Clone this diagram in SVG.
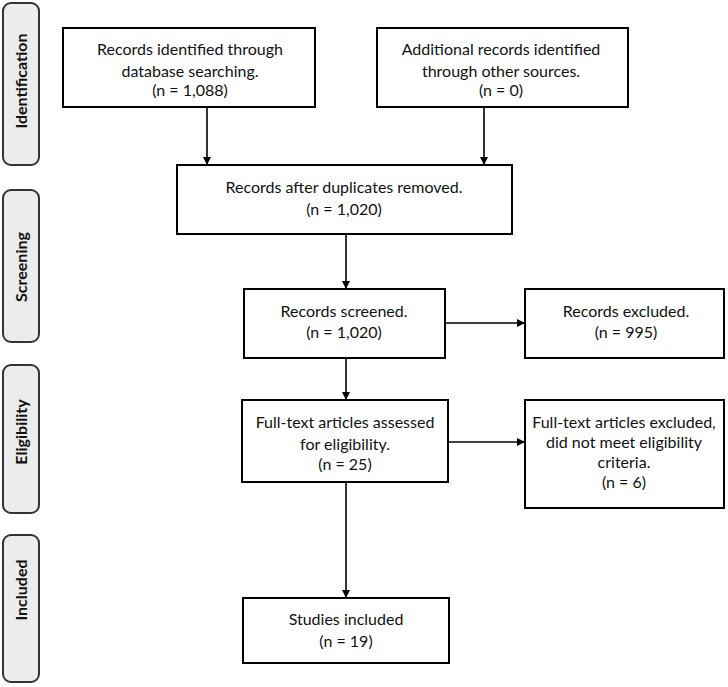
<svg xmlns="http://www.w3.org/2000/svg" width="728" height="687" viewBox="0 0 728 687">
<defs>
<marker id="ah" viewBox="0 0 10 10" refX="10" refY="5" markerWidth="8" markerHeight="8" markerUnits="userSpaceOnUse" orient="auto">
<path d="M0,0 L10,5 L0,10 z" fill="#000"/>
</marker>
</defs>
<style>
.box{fill:#fff;stroke:#000;stroke-width:2}
.side{fill:#ececec;stroke:#333;stroke-width:2}
.t{font-family:Lato,"Open Sans","Liberation Sans",sans-serif;font-size:16px;fill:#111;text-anchor:middle}
.s{font-family:Lato,"Open Sans","Liberation Sans",sans-serif;font-size:16px;font-weight:bold;fill:#111;text-anchor:middle}
.c{stroke:#000;stroke-width:1.6;fill:none;marker-end:url(#ah)}
</style>
<rect width="728" height="687" fill="#fff"/>
<g id="phase-identification"><rect class="side" x="3" y="3" width="36" height="162" rx="8"/><text class="s" transform="translate(27,81) rotate(-90)">Identification</text></g>
<g id="phase-screening"><rect class="side" x="3" y="190" width="36" height="152" rx="8"/><text class="s" transform="translate(27,267) rotate(-90)">Screening</text></g>
<g id="phase-eligibility"><rect class="side" x="3" y="365" width="36" height="148" rx="8"/><text class="s" transform="translate(27,432) rotate(-90)">Eligibility</text></g>
<g id="phase-included"><rect class="side" x="3" y="535" width="36" height="147" rx="8"/><text class="s" transform="translate(27,590) rotate(-90)">Included</text></g>
<g id="n1"><rect class="box" x="63" y="28" width="252" height="79"/><text class="t" x="190" y="55">Records identified through</text><text class="t" x="190" y="77">database searching.</text><text class="t" x="190" y="96">(n = 1,088)</text></g>
<g id="n2"><rect class="box" x="377" y="28" width="251" height="79"/><text class="t" x="501" y="55">Additional records identified</text><text class="t" x="501" y="77">through other sources.</text><text class="t" x="501" y="96">(n = 0)</text></g>
<g id="n3"><rect class="box" x="177" y="165" width="335" height="69"/><text class="t" x="344" y="193">Records after duplicates removed.</text><text class="t" x="344" y="215">(n = 1,020)</text></g>
<g id="n4"><rect class="box" x="244" y="289" width="201" height="69"/><text class="t" x="344" y="317">Records screened.</text><text class="t" x="344" y="338">(n = 1,020)</text></g>
<g id="n5"><rect class="box" x="525" y="289" width="199" height="69"/><text class="t" x="626" y="317">Records excluded.</text><text class="t" x="626" y="338">(n = 995)</text></g>
<g id="n6"><rect class="box" x="242" y="400" width="206" height="82"/><text class="t" x="345" y="428">Full-text articles assessed</text><text class="t" x="345" y="450">for eligibility.</text><text class="t" x="345" y="470">(n = 25)</text></g>
<g id="n7"><rect class="box" x="525" y="400" width="199" height="108"/><text class="t" x="624" y="428">Full-text articles excluded,</text><text class="t" x="624" y="448">did not meet eligibility</text><text class="t" x="624" y="468">criteria.</text><text class="t" x="624" y="488">(n = 6)</text></g>
<g id="n8"><rect class="box" x="243" y="598" width="206" height="65"/><text class="t" x="346" y="625">Studies included</text><text class="t" x="346" y="647">(n = 19)</text></g>
<g id="connectors">
<line class="c" x1="207" y1="107" x2="207" y2="165"/>
<line class="c" x1="484" y1="107" x2="484" y2="165"/>
<line class="c" x1="346" y1="234" x2="346" y2="289"/>
<line class="c" x1="445" y1="323" x2="525" y2="323"/>
<line class="c" x1="346" y1="358" x2="346" y2="400"/>
<line class="c" x1="448" y1="442" x2="525" y2="442"/>
<line class="c" x1="346" y1="482" x2="346" y2="598"/>
</g>
</svg>
